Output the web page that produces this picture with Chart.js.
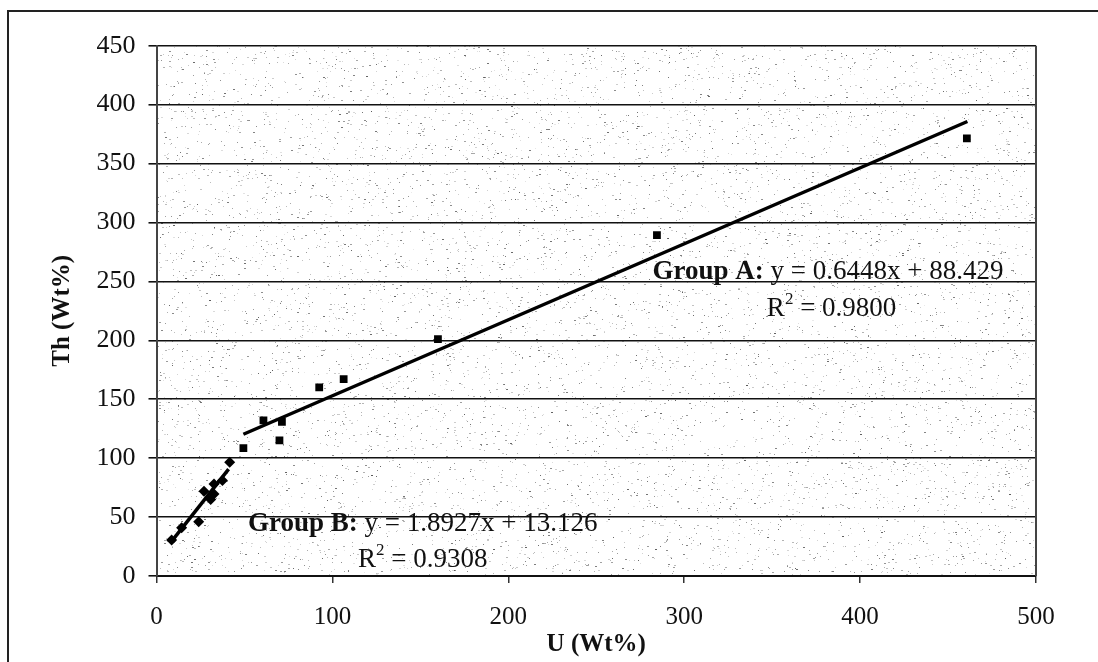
<!DOCTYPE html>
<html>
<head>
<meta charset="utf-8">
<script src="https://cdn.jsdelivr.net/npm/chart.js@4.4.1/dist/chart.umd.min.js"></script>
<style>
  html, body { margin: 0; padding: 0; background: #fff; }
  #wrap { width: 1098px; height: 662px; }
</style>
</head>
<body>
<div id="wrap"><canvas id="chart" width="1098" height="662"></canvas></div>
<script>
// values
const groupAU = [49.4, 60.8, 69.9, 71.3, 92.5, 106.4, 160, 284.5, 460.7];
const groupATh = [108.5, 132, 115, 130.7, 160, 167, 201, 289.3, 371.4];
const groupBU = [8.6, 14.3, 24, 27, 30.8, 32.7, 32.7, 37.5, 41.6];
const groupBTh = [30.5, 41, 46, 72, 65, 69.5, 78, 81, 96.5];

// fitted lines printed on the chart: [slope, intercept], drawn over [from, to]
const fitA = [0.6448, 88.429];
const fitARange = [49.4, 461];
const fitB = [1.8927, 13.126];
const fitBRange = [8, 41];

const xTicks = [0, 100, 200, 300, 400, 500];
const yTicks = [0, 50, 100, 150, 200, 250, 300, 350, 400, 450];

const SERIF = '"Liberation Serif", "Times New Roman", serif';

function pts(xs, ys) {
  return xs.map((x, i) => ({ x: x, y: ys[i] }));
}

function fitLine(fit, range) {
  return range.map((x) => ({ x: x, y: fit[0] * x + fit[1] }));
}

// light speckle texture behind the plot, like the scanned original
const speckle = {
  id: "speckle",
  beforeDraw(chart) {
    const { ctx, chartArea: a } = chart;
    ctx.save();
    ctx.fillStyle = "#fff";
    ctx.fillRect(0, 0, chart.width, chart.height);
    let seed = 12345;
    const next = () => {
      seed = (seed * 1103515245 + 12345) % 2147483648;
      return seed / 2147483648;
    };
    const w = a.right - a.left;
    const h = a.bottom - a.top;
    for (let i = 0; i < 9000; i++) {
      const px = a.left + next() * w;
      const py = a.top + next() * h;
      const g = Math.floor(60 + next() * 140);
      ctx.fillStyle = "rgba(" + g + "," + g + "," + g + "," + (0.35 + next() * 0.5) + ")";
      const s = next() < 0.3 ? 2 : 1;
      ctx.fillRect(Math.round(px), Math.round(py), s, 1);
    }
    ctx.restore();
  },
  afterDraw(chart) {
    const { ctx, chartArea: a } = chart;
    ctx.save();
    // right edge of plot area
    ctx.strokeStyle = "#444";
    ctx.lineWidth = 2;
    ctx.beginPath();
    ctx.moveTo(a.right, a.top);
    ctx.lineTo(a.right, a.bottom);
    ctx.stroke();
    // outer frame
    ctx.strokeStyle = "#222";
    ctx.lineWidth = 2;
    ctx.strokeRect(8, 11, 1200, 800);
    ctx.restore();
  }
};

// equation labels
const notes = {
  id: "notes",
  afterDatasetsDraw(chart) {
    const { ctx, scales: { x, y } } = chart;
    ctx.save();
    ctx.fillStyle = "#111";
    ctx.textBaseline = "middle";
    ctx.textAlign = "left";

    function eq(name, fit, ux, uy) {
      let px = x.getPixelForValue(ux);
      const py = y.getPixelForValue(uy);
      ctx.font = "bold 27px " + SERIF;
      ctx.fillText(name, px, py);
      px += ctx.measureText(name).width;
      ctx.font = "27px " + SERIF;
      ctx.fillText(" y = " + fit[0] + "x + " + fit[1], px, py);
    }

    function r2(value, ux, uy) {
      let px = x.getPixelForValue(ux);
      const py = y.getPixelForValue(uy);
      ctx.font = "27px " + SERIF;
      ctx.fillText("R", px, py);
      px += ctx.measureText("R").width;
      ctx.font = "17px " + SERIF;
      ctx.fillText("2", px, py - 9);
      px += ctx.measureText("2").width;
      ctx.font = "27px " + SERIF;
      ctx.fillText(" = " + value, px, py);
    }

    eq("Group A:", fitA, 282, 258);
    r2("0.9800", 347, 227);
    eq("Group B:", fitB, 52, 44);
    r2("0.9308", 114.5, 14);
    ctx.restore();
  }
};

new Chart(document.getElementById("chart"), {
  type: "scatter",
  data: {
    datasets: [
      {
        label: "Group A fit",
        type: "line",
        data: fitLine(fitA, fitARange),
        borderColor: "#000",
        borderWidth: 3.5,
        pointRadius: 0,
        fill: false
      },
      {
        label: "Group B fit",
        type: "line",
        data: fitLine(fitB, fitBRange),
        borderColor: "#000",
        borderWidth: 3.5,
        pointRadius: 0,
        fill: false
      },
      {
        label: "Group A",
        data: pts(groupAU, groupATh),
        pointStyle: "rect",
        pointRadius: 5.5,
        backgroundColor: "#000",
        borderColor: "#000",
        borderWidth: 0
      },
      {
        label: "Group B",
        data: pts(groupBU, groupBTh),
        pointStyle: "rectRot",
        pointRadius: 5.5,
        backgroundColor: "#000",
        borderColor: "#000",
        borderWidth: 0
      }
    ]
  },
  options: {
    responsive: false,
    animation: false,
    layout: {
      padding: { left: 0, top: 45.7, right: 62, bottom: 0 }
    },
    plugins: {
      legend: { display: false },
      tooltip: { enabled: false }
    },
    scales: {
      x: {
        type: "linear",
        min: 0,
        max: 500,
        afterBuildTicks: (s) => {
          s.ticks = xTicks.map((v) => ({ value: v }));
        },
        afterFit: (s) => {
          s.height = 86;
        },
        ticks: {
          color: "#111",
          padding: 19,
          maxRotation: 0,
          font: { family: SERIF, size: 25 }
        },
        grid: {
          drawOnChartArea: false,
          drawTicks: true,
          tickLength: 7,
          color: "#333",
          lineWidth: 1.5
        },
        border: { display: true, color: "#111", width: 2 },
        title: {
          display: true,
          text: "U (Wt%)",
          color: "#111",
          padding: { top: 0, bottom: 2 },
          font: { family: SERIF, size: 25, weight: "bold" }
        }
      },
      y: {
        type: "linear",
        min: 0,
        max: 450,
        afterBuildTicks: (s) => {
          s.ticks = yTicks.map((v) => ({ value: v }));
        },
        afterFit: (s) => {
          s.width = 156.5;
        },
        ticks: {
          color: "#111",
          padding: 13,
          font: { family: SERIF, size: 26 }
        },
        grid: {
          drawOnChartArea: true,
          drawTicks: true,
          tickLength: 8,
          color: "#111",
          lineWidth: 1.6
        },
        border: { display: true, color: "#444", width: 2 },
        title: {
          display: true,
          text: "Th (Wt%)",
          color: "#111",
          padding: { top: 48, bottom: 0 },
          font: { family: SERIF, size: 25, weight: "bold" }
        }
      }
    }
  },
  plugins: [speckle, notes]
});
</script>
</body>
</html>
